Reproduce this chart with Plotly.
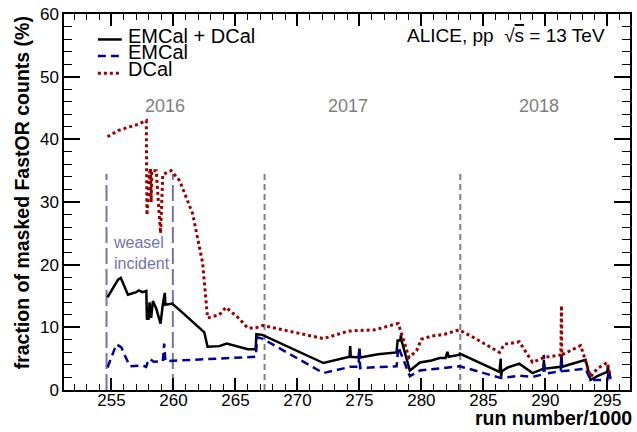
import plotly.graph_objects as go

# ---------------- data ----------------
run_total = [254.68, 255.53, 255.75, 256.33, 257.0, 257.2, 257.5, 257.81, 257.86, 257.95, 258.0,
             258.07, 258.2, 258.34, 258.61, 258.96, 259.14, 259.3, 259.35, 259.9, 260.75, 262.49,
             262.75, 263.7, 264.3, 265.3, 266.0, 266.63, 266.69, 267.17, 272.1, 274.2, 274.26,
             274.3, 274.93, 275.0, 275.06, 276.5, 278.0, 278.08, 278.3, 278.35, 278.4, 279.07,
             279.88, 280.81, 281.48, 281.95, 282.1, 282.2, 283.03, 283.1, 286.3, 286.4, 286.43,
             286.5, 286.97, 287.9, 288.97, 289.85, 289.88, 289.92, 291.25, 291.3, 291.35, 293.25,
             293.65, 294.19, 294.99, 295.05, 295.12, 295.26]
frac_total = [14.8, 17.6, 17.9, 15.2, 15.6, 15.9, 15.6, 15.8, 11.2, 12.3, 11.2,
              14.0, 11.5, 14.2, 13.0, 10.6, 13.6, 15.5, 13.6, 13.8, 12.3, 9.2,
              6.9, 7.0, 7.4, 6.9, 6.5, 6.5, 8.9, 8.8, 4.3, 5.3, 7.0,
              5.3, 5.2, 6.6, 5.2, 5.7, 6.0, 7.9, 7.9, 8.8, 7.9, 3.1,
              4.4, 4.7, 5.1, 5.1, 6.1, 5.3, 5.6, 5.8, 2.9, 5.0, 2.1,
              3.0, 3.6, 4.2, 2.7, 3.4, 4.8, 3.4, 3.7, 5.7, 3.7, 4.8,
              1.6, 2.2, 2.9, 3.8, 2.6, 2.6]

run_emcal = [254.68, 255.4, 255.8, 256.47, 257.54, 257.8, 257.9, 258.1, 258.15, 258.4, 259.14,
             259.25, 259.35, 266.0, 266.63, 266.77, 267.17, 272.1, 274.26, 274.93, 275.0, 275.06,
             278.0, 278.14, 279.07, 279.88, 281.88, 283.09, 286.43, 287.9, 288.97, 289.85,
             289.88, 289.95, 291.25, 291.3, 291.35, 293.25, 293.65, 295.0, 295.12, 295.26]
frac_emcal = [3.6, 7.3, 6.8, 3.8, 3.9, 3.7, 4.3, 4.4, 4.9, 4.5, 4.6,
              7.4, 4.6, 5.2, 5.3, 8.4, 8.2, 2.7, 3.7, 3.7, 6.5, 3.5,
              3.8, 6.9, 2.2, 3.1, 3.6, 3.8, 1.9, 2.3, 2.1, 2.5,
              5.6, 2.6, 3.0, 5.1, 3.0, 3.4, 1.6, 1.6, 3.1, 1.7]

run_dcal = [254.68, 255.53, 257.14, 257.7, 257.81, 257.86, 258.07, 258.1, 258.15, 258.2, 258.25,
            258.61, 258.96, 259.14, 259.81, 260.5, 261.55, 262.35, 262.75, 263.7, 264.23, 265.3,
            265.97, 266.63, 267.2, 272.1, 274.1, 274.93, 276.26, 277.87, 278.14, 279.0, 279.61,
            280.0, 280.81, 281.88, 283.03, 284.29, 286.3, 286.7, 287.9, 288.97, 289.91, 291.25,
            291.3, 291.33, 292.85, 293.65, 294.19, 294.99, 295.26]
frac_dcal = [40.4, 41.4, 42.4, 43.0, 43.0, 27.9, 34.9, 33.0, 35.5, 30.0, 35.0,
             35.0, 25.0, 34.4, 35.0, 33.4, 28.1, 20.3, 11.5, 12.0, 13.2, 11.4,
             9.9, 9.9, 10.3, 8.2, 9.4, 9.5, 9.6, 10.5, 10.6, 5.2, 6.25,
             8.1, 8.6, 8.9, 9.6, 8.3, 6.0, 7.3, 7.7, 4.4, 5.2, 5.6,
             13.5, 5.6, 7.1, 2.1, 3.4, 4.4, 2.1]

series_names = ["EMCal + DCal", "EMCal", "DCal"]
weasel_runs = [254.6, 259.95]
year_boundaries = [267.35, 283.14]
marker_line_top = 34.5
year_labels = ["2016", "2017", "2018"]
year_label_runs = [259.35, 274.1, 289.45]
year_label_level = 45.3

x_range = [251.17, 296.83]
y_range = [0, 60]

# ---------------- figure ----------------
FONT = "Liberation Sans, Arial, sans-serif"
W, H = 637, 432
ML, MR, MT, MB = 64, 5, 6, 42
PW, PH = W - ML - MR, H - MT - MB


def px(xp):
    return (xp - ML) / PW


def py(yp):
    return (H - MB - yp) / PH


colors = ["#000000", "#000099", "#990000"]
dashes = ["solid", "8px,5px", "3px,3px"]
widths = [2.5, 2.5, 3]

fig = go.Figure()

for r in weasel_runs:
    fig.add_trace(go.Scatter(x=[r, r], y=[0, marker_line_top], mode="lines",
                             line=dict(color="#7474aa", width=2, dash="16px,5px"),
                             showlegend=False, hoverinfo="skip"))
for r in year_boundaries:
    fig.add_trace(go.Scatter(x=[r, r], y=[0, marker_line_top], mode="lines",
                             line=dict(color="#808080", width=2, dash="6px,4px"),
                             showlegend=False, hoverinfo="skip"))

data = [(run_total, frac_total), (run_emcal, frac_emcal), (run_dcal, frac_dcal)]
for (xs, ys), name, c, d, w in zip(data, series_names, colors, dashes, widths):
    fig.add_trace(go.Scatter(x=xs, y=ys, mode="lines", name=name,
                             line=dict(color=c, width=w, dash=d), showlegend=False))

# year labels
for lab, xr in zip(year_labels, year_label_runs):
    fig.add_annotation(x=xr, y=year_label_level, xref="x", yref="y", text=lab,
                       showarrow=False, font=dict(family=FONT, size=18, color="#808080"))

# weasel incident text
fig.add_annotation(x=254.95, y=21.9, xref="x", yref="y", text="weasel<br>incident",
                   showarrow=False, xanchor="left", align="left",
                   font=dict(family=FONT, size=16, color="#7474aa"))

# manual legend
leg_line_y = [32, 49, 66.5]
leg_text_y = [28, 45, 62]
for name, c, d, w, ly, ty in zip(series_names, colors, dashes, widths, leg_line_y, leg_text_y):
    fig.add_shape(type="line", xref="paper", yref="paper",
                  x0=px(98), x1=px(122), y0=py(ly), y1=py(ly),
                  line=dict(color=c, width=w, dash=d))
    fig.add_annotation(x=px(126), y=py(ty), xref="paper", yref="paper", text=name,
                       showarrow=False, xanchor="left", yanchor="middle",
                       font=dict(family=FONT, size=20, color="black"))

# ALICE label
fig.add_annotation(x=px(609), y=py(28), xref="paper", yref="paper",
                   text="ALICE, pp  \u221a<span style='text-decoration:overline'>s</span> = 13 TeV",
                   showarrow=False, xanchor="right", yanchor="middle",
                   font=dict(family=FONT, size=19, color="black"))

# axis titles
fig.add_annotation(x=px(22), y=py(189), xref="paper", yref="paper",
                   text="<b>fraction of masked FastOR counts (%)</b>", textangle=-90,
                   showarrow=False, xanchor="center", yanchor="middle",
                   font=dict(family=FONT, size=19.5, color="black"))
fig.add_annotation(x=px(636), y=py(418.5), xref="paper", yref="paper",
                   text="<b>run number/1000</b>",
                   showarrow=False, xanchor="right", yanchor="middle",
                   font=dict(family=FONT, size=19.5, color="black"))

fig.update_layout(
    width=W, height=H,
    margin=dict(l=ML, r=MR, t=MT, b=MB),
    paper_bgcolor="white", plot_bgcolor="white",
    showlegend=False,
    xaxis=dict(range=x_range, tick0=255, dtick=5, ticks="inside", ticklen=12, tickwidth=1.5,
               tickcolor="black", showline=True, linecolor="black", linewidth=1.5,
               mirror="ticks", showgrid=False, zeroline=False,
               ticklabelstandoff=-6, ticklabeloverflow="allow",
               minor=dict(dtick=1, ticks="inside", ticklen=6, tickwidth=1, tickcolor="black",
                          showgrid=False),
               tickfont=dict(family=FONT, size=17, color="black")),
    yaxis=dict(range=y_range, tick0=0, dtick=10, ticks="inside", ticklen=16, tickwidth=1.5,
               tickcolor="black", showline=True, linecolor="black", linewidth=1.5,
               mirror="ticks", showgrid=False, zeroline=False,
               ticklabeloverflow="allow",
               minor=dict(dtick=2, ticks="inside", ticklen=8, tickwidth=1, tickcolor="black",
                          showgrid=False),
               tickfont=dict(family=FONT, size=17, color="black")),
)

fig.write_html("out.html", config={"displayModeBar": False},
               post_script="document.body.style.margin='0px';")
